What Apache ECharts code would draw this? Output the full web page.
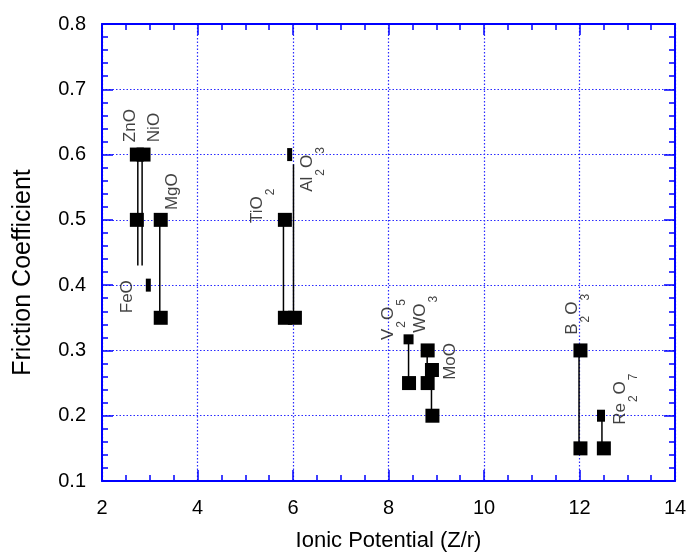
<!DOCTYPE html>
<html>
<head>
<meta charset="utf-8">
<script src="https://cdn.jsdelivr.net/npm/echarts@6/dist/echarts.min.js"></script>
<style>
  html, body { margin: 0; padding: 0; background: #fff; }
  #chart { width: 688px; height: 555px; }
</style>
</head>
<body>
<div id="chart"></div>
<script>
// Oxide friction coefficient vs. cation ionic potential

// Full square markers (measured friction values)
const squareX = [2.73, 2.73, 2.87, 3.23, 3.23, 5.83, 5.83, 6.04, 8.43, 8.82, 8.82, 8.91, 8.92, 12.02, 12.02, 12.51];
const squareY = [0.6, 0.5, 0.6, 0.5, 0.35, 0.5, 0.35, 0.35, 0.25, 0.3, 0.25, 0.27, 0.2, 0.3, 0.15, 0.15];

// Partial (narrow) markers
const partialX = [2.97, 5.93, 8.42, 12.45];
const partialY = [0.4, 0.6, 0.317, 0.2];

// Vertical range bars
const rangeX    = [2.75, 2.84, 3.21, 5.80, 6.01, 8.42, 8.81, 8.90, 11.99, 12.47];
const rangeHigh = [0.6, 0.6, 0.5, 0.5, 0.585, 0.317, 0.3, 0.27, 0.3, 0.2];
const rangeLow  = [0.43, 0.43, 0.35, 0.35, 0.35, 0.25, 0.25, 0.2, 0.15, 0.15];

// Compound names ("_" marks a subscript digit)
const compounds = ['ZnO', 'NiO', 'FeO', 'MgO', 'TiO_2', 'Al_2O_3', 'V_2O_5', 'WO_3', 'MoO', 'B_2O_3', 'Re_2O_7'];
// Where each rotated name starts (axis units)
const labelAnchorX = [2.408, 2.909, 2.355, 3.285, 5.072, 6.127, 7.820, 8.489, 9.116, 11.67, 12.68];
const labelAnchorY = [0.619, 0.619, 0.357, 0.515, 0.495, 0.543, 0.316, 0.327, 0.255, 0.324, 0.186];

// Axis ticks
const xTicks = { min: 2, max: 14, step: 2 };
const yTicks = { min: 0.1, max: 0.8, step: 0.1 };

const AXIS_BLUE = '#0000ff';
const GRID_BLUE = '#2a2aff';
const FONT = 'Liberation Sans, Arial, sans-serif';
const partialSizes = [[5, 13], [5, 13], [10, 10], [8, 12]];

function richName(name) {
  // "Al_2O_3" -> "{m|Al}{s|2}{m|O}{s|3}"
  return name.replace(/_(\d)/g, '\u0001$1\u0002').split(/(\u0001\d\u0002)/).filter(Boolean)
    .map(p => p.charAt(0) === '\u0001' ? '{s|' + p.charAt(1) + '}' : '{m|' + p + '}').join('');
}

function makeAxis(dir, pos, showLabels, range, minorSplit, splitShow) {
  return {
    type: 'value',
    position: pos,
    min: range.min, max: range.max, interval: range.step,
    axisLine: { show: true, onZero: false, lineStyle: { color: AXIS_BLUE, width: 2 } },
    axisTick: { show: true, inside: true, length: 11, lineStyle: { color: AXIS_BLUE, width: 1.5 } },
    minorTick: { show: true, splitNumber: minorSplit, length: 6, lineStyle: { color: AXIS_BLUE, width: 1.5 } },
    splitLine: { show: splitShow, lineStyle: { color: GRID_BLUE, type: [1.5, 2], width: 1.2 } },
    axisLabel: {
      show: showLabels, color: '#000', fontFamily: FONT, fontSize: 20,
      margin: dir === 'x' ? 17 : 16,
      formatter: v => dir === 'x' ? String(Math.round(v)) : v.toFixed(1)
    }
  };
}

const chart = echarts.init(document.getElementById('chart'), null, { renderer: 'canvas' });

const xBottom = makeAxis('x', 'bottom', true, xTicks, 4, true);
xBottom.name = 'Ionic Potential (Z/r)';
xBottom.nameLocation = 'middle';
xBottom.nameGap = 49;
xBottom.nameTextStyle = { color: '#000', fontFamily: FONT, fontSize: 22 };

const yLeft = makeAxis('y', 'left', true, yTicks, 5, true);
yLeft.name = 'Friction Coefficient';
yLeft.nameLocation = 'middle';
yLeft.nameGap = 66;
// extra end padding shifts the centred title downwards
yLeft.nameTextStyle = { color: '#000', fontFamily: FONT, fontSize: 25, padding: [0, 40, 0, 0] };

chart.setOption({
  animation: false,
  backgroundColor: '#fff',
  grid: { left: 102, right: 13, top: 24, bottom: 74, containLabel: false, outerBoundsMode: 'none' },
  xAxis: [xBottom, makeAxis('x', 'top', false, xTicks, 4, false)],
  yAxis: [yLeft, makeAxis('y', 'right', false, yTicks, 5, false)],
  series: [
    {
      type: 'custom',
      name: 'range',
      silent: true,
      data: rangeX.map((x, i) => [x, rangeLow[i], rangeHigh[i]]),
      renderItem: function (params, api) {
        const top = api.coord([api.value(0), api.value(2)]);
        const bot = api.coord([api.value(0), api.value(1)]);
        return {
          type: 'line',
          shape: { x1: top[0], y1: top[1], x2: bot[0], y2: bot[1] },
          style: { stroke: '#000', lineWidth: 1.5 }
        };
      },
      z: 2
    },
    {
      type: 'scatter',
      name: 'measured',
      symbol: 'rect',
      symbolSize: 14,
      itemStyle: { color: '#000', opacity: 1 },
      data: squareX.map((x, i) => [x, squareY[i]]),
      z: 3
    },
    {
      type: 'scatter',
      name: 'partial',
      symbol: 'rect',
      symbolSize: (v, p) => partialSizes[p.dataIndex],
      itemStyle: { color: '#000', opacity: 1 },
      data: partialX.map((x, i) => [x, partialY[i]]),
      z: 3
    },
    {
      type: 'scatter',
      name: 'names',
      symbolSize: 0,
      silent: true,
      data: compounds.map((c, i) => ({ value: [labelAnchorX[i], labelAnchorY[i]], name: c })),
      label: {
        show: true,
        position: [0, 0],
        rotate: 90,
        align: 'left',
        verticalAlign: 'top',
        formatter: p => richName(p.name),
        rich: {
          m: { fontFamily: FONT, fontSize: 17, lineHeight: 17, verticalAlign: 'top', color: '#111' },
          s: { fontFamily: FONT, fontSize: 12, lineHeight: 28, verticalAlign: 'bottom', color: '#111', padding: [0, 1, 0, 1] }
        }
      },
      z: 4
    }
  ]
});
</script>
</body>
</html>
